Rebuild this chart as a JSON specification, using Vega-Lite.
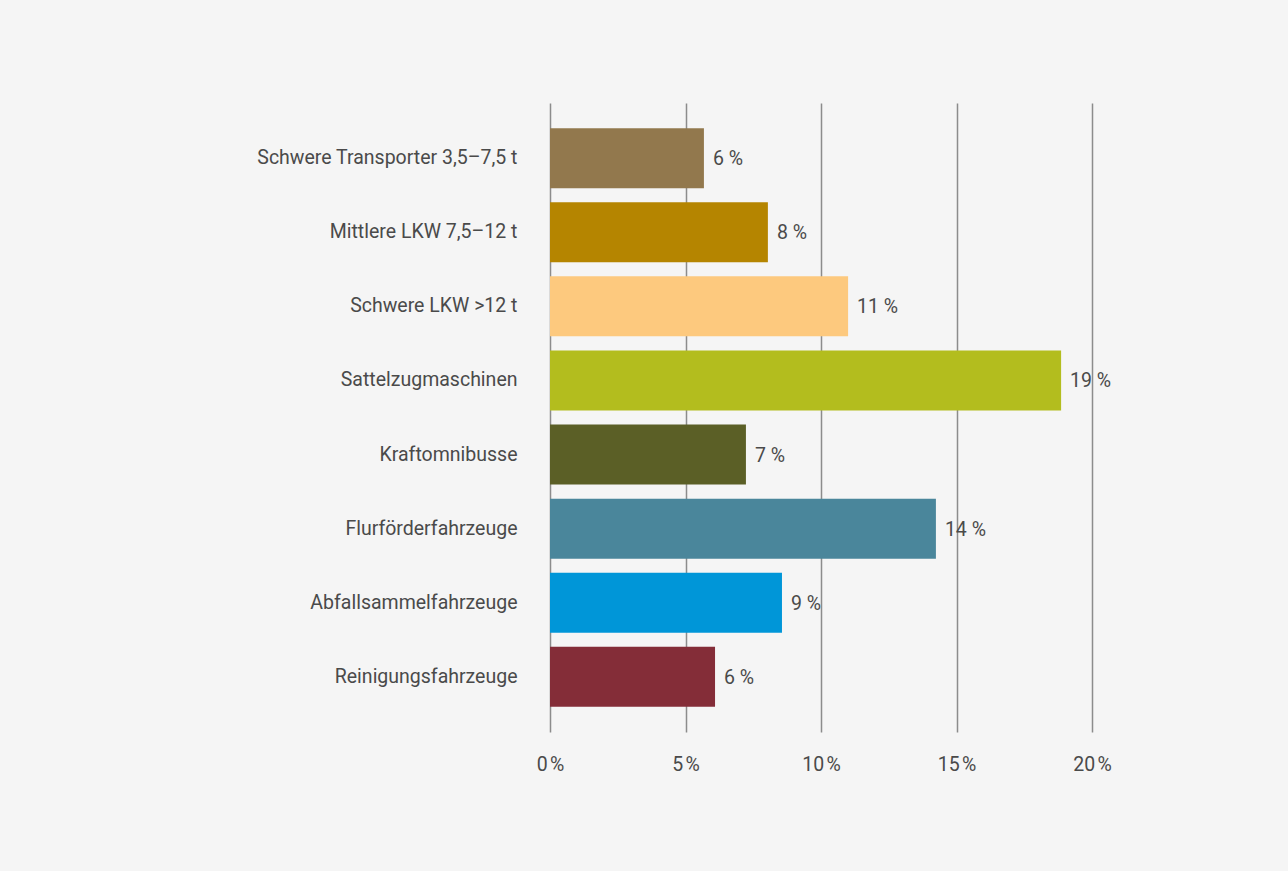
{
  "$schema": "https://vega.github.io/schema/vega-lite/v6.json",
  "autosize": {"type": "none"},
  "width": 542,
  "height": 629,
  "padding": {"left": 550, "top": 103, "right": 196, "bottom": 139},
  "background": "#f5f5f5",
  "config": {
    "view": {"stroke": null},
    "font": "Roboto",
    "axis": {"labelFont": "Roboto", "labelColor": "#4a4a4a"}
  },
  "data": {
    "values": [
      {"kategorie": "Schwere Transporter 3,5–7,5 t", "anteil": 5.68, "label": "6 %", "farbe": "#92784d"},
      {"kategorie": "Mittlere LKW 7,5–12 t", "anteil": 8.04, "label": "8 %", "farbe": "#b58500"},
      {"kategorie": "Schwere LKW >12 t", "anteil": 11.0, "label": "11 %", "farbe": "#fdc97e"},
      {"kategorie": "Sattelzugmaschinen", "anteil": 18.86, "label": "19 %", "farbe": "#b3bd1e"},
      {"kategorie": "Kraftomnibusse", "anteil": 7.23, "label": "7 %", "farbe": "#5b5f26"},
      {"kategorie": "Flurförderfahrzeuge", "anteil": 14.24, "label": "14 %", "farbe": "#4a869b"},
      {"kategorie": "Abfallsammelfahrzeuge", "anteil": 8.56, "label": "9 %", "farbe": "#0096d8"},
      {"kategorie": "Reinigungsfahrzeuge", "anteil": 6.09, "label": "6 %", "farbe": "#842d38"}
    ]
  },
  "encoding": {
    "y": {
      "field": "kategorie",
      "type": "nominal",
      "sort": null,
      "scale": {"paddingInner": 0.19, "paddingOuter": 0.34},
      "axis": {
        "title": null,
        "domain": false,
        "ticks": false,
        "labelPadding": 33,
        "labelFontSize": 19.5,
        "labelColor": "#4a4a4a",
        "labelLimit": 450
      }
    },
    "x": {
      "field": "anteil",
      "type": "quantitative",
      "scale": {"domain": [0, 20], "nice": false},
      "axis": {
        "title": null,
        "values": [0, 5, 10, 15, 20],
        "labelExpr": "datum.value + '\u202f%'",
        "labelFlush": false,
        "labelAlign": "center",
        "domain": false,
        "ticks": false,
        "grid": true,
        "gridColor": "#8c8c8c",
        "gridWidth": 1.5,
        "labelPadding": 23,
        "labelFontSize": 19.5,
        "labelColor": "#4a4a4a"
      }
    }
  },
  "layer": [
    {
      "mark": {"type": "bar"},
      "encoding": {
        "color": {"field": "farbe", "type": "nominal", "scale": null, "legend": null}
      }
    },
    {
      "mark": {"type": "text", "align": "left", "baseline": "middle", "dx": 9, "dy": 1, "fontSize": 19.5, "color": "#4a4a4a", "font": "Roboto"},
      "encoding": {
        "text": {"field": "label", "type": "nominal"}
      }
    }
  ]
}
